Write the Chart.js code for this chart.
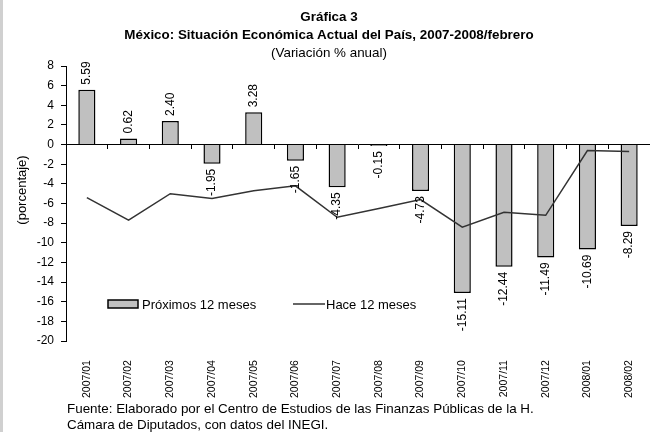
<!DOCTYPE html>
<html>
<head>
<meta charset="utf-8">
<script src="https://cdn.jsdelivr.net/npm/chart.js@4.4.1/dist/chart.umd.min.js"></script>
<style>
  body { margin: 0; background: #fff; }
  #wrap { position: relative; width: 650px; height: 432px; }
  #chart { display: block; }
  #edge { position: absolute; left: 0; top: 0; width: 3px; height: 432px; background: #d0d0d0; }
  #fuente { position: absolute; left: 67px; top: 401px; font: 13.4px "Liberation Sans", Arial, sans-serif; line-height: 16px; color: #000; white-space: nowrap; }
</style>
</head>
<body>
<div id="wrap">
  <canvas id="chart" width="650" height="432"></canvas>
  <div id="edge"></div>
  <div id="fuente">Fuente: Elaborado por el Centro de Estudios de las Finanzas Públicas de la H.<br>Cámara de Diputados, con datos del INEGI.</div>
</div>
<script>
const meses = ["2007/01", "2007/02", "2007/03", "2007/04", "2007/05", "2007/06", "2007/07",
    "2007/08", "2007/09", "2007/10", "2007/11", "2007/12", "2008/01", "2008/02"]
const proximos = [5.59, 0.62, 2.40, -1.95, 3.28, -1.65, -4.35, -0.15, -4.73, -15.11, -12.44, -11.49, -10.69, -8.29]
const hace = [-5.4, -7.7, -5.0, -5.5, -4.7, -4.2, -7.4, -6.5, -5.6, -8.4, -6.9, -7.2, -0.6, -0.7]

Chart.defaults.font.family = '"Liberation Sans", Arial, sans-serif'
Chart.defaults.color = "#000"

// etiquetas de valor giradas sobre/debajo de cada barra
const barLabels = {
    id: "barLabels",
    afterDatasetsDraw(chart) {
        const c = chart.ctx
        const meta = chart.getDatasetMeta(1)
        c.save()
        c.font = '12px "Liberation Sans", Arial, sans-serif'
        c.fillStyle = "#000"
        c.textBaseline = "middle"
        meta.data.forEach((bar, i) => {
            const v = proximos[i]
            c.save()
            c.translate(bar.x, v >= 0 ? bar.y - 5 : bar.y + 5)
            c.rotate(-Math.PI / 2)
            c.textAlign = v >= 0 ? "left" : "right"
            c.fillText(v.toFixed(2), 0, 0)
            c.restore()
        })
        c.restore()
    }
}

// leyenda dentro del área de la gráfica y título del eje y
const legendBox = {
    id: "legendBox",
    afterDraw(chart) {
        const c = chart.ctx
        const a = chart.chartArea
        const bars = chart.data.datasets[1]
        const line = chart.data.datasets[0]
        const y = a.top + 238
        c.save()
        c.font = '13px "Liberation Sans", Arial, sans-serif'
        c.textBaseline = "middle"
        c.fillStyle = bars.backgroundColor
        c.fillRect(a.left + 42, y - 4, 30, 8)
        c.strokeStyle = bars.borderColor
        c.lineWidth = 1.5
        c.strokeRect(a.left + 42, y - 4, 30, 8)
        c.fillStyle = "#000"
        c.fillText(bars.label, a.left + 76, y + 1)
        c.strokeStyle = line.borderColor
        c.lineWidth = line.borderWidth
        c.beginPath()
        c.moveTo(a.left + 227, y)
        c.lineTo(a.left + 259, y)
        c.stroke()
        c.fillText(line.label, a.left + 260, y + 1)

        c.translate(22, a.top + 124)
        c.rotate(-Math.PI / 2)
        c.textAlign = "center"
        c.fillText("(porcentaje)", 0, 0)
        c.restore()
    }
}

const ctx = document.getElementById("chart")
new Chart(ctx, {
    type: "bar",
    data: {
        labels: meses,
        datasets: [{
            type: "line",
            label: "Hace 12 meses",
            data: hace,
            borderColor: "#333333",
            borderWidth: 1.5,
            pointRadius: 0,
            tension: 0,
        }, {
            label: "Próximos 12 meses",
            data: proximos,
            backgroundColor: "#C0C0C0",
            borderColor: "#000000",
            borderWidth: 1.5,
            barPercentage: 0.41,
            categoryPercentage: 1,
        }]
    },
    options: {
        responsive: false,
        animation: false,
        layout: { padding: { left: 8, right: 0, top: 0, bottom: 34 } },
        scales: {
            x: {
                position: "bottom",
                offset: true,
                grid: { display: false, drawTicks: true, tickLength: 19 },
                border: { display: false },
                ticks: { autoSkip: false, minRotation: 90, maxRotation: 90, padding: 0, font: { size: 10.5 } }
            },
            x2: {
                type: "category",
                position: { y: 0 },
                offset: true,
                grid: { offset: true, drawOnChartArea: false, tickLength: 4, color: "#000" },
                border: { color: "#000", width: 1 },
                ticks: { display: false }
            },
            y: {
                min: -20,
                max: 8,
                afterFit: (scale) => { scale.width = 58 },
                ticks: { stepSize: 2, padding: 7, font: { size: 12 } },
                grid: { drawOnChartArea: false, tickLength: 5, color: "#000" },
                border: { color: "#000" }
            }
        },
        plugins: {
            legend: { display: false },
            tooltip: { enabled: false },
            title: {
                display: true,
                text: ["Gráfica 3", "México: Situación Económica Actual del País, 2007-2008/febrero"],
                font: { size: 13.4, weight: "bold", lineHeight: 18 / 13.4 },
                padding: { top: 8, bottom: 0 }
            },
            subtitle: {
                display: true,
                text: "(Variación % anual)",
                font: { size: 13.4, lineHeight: 18 / 13.4 },
                padding: { top: 0, bottom: 4 }
            }
        }
    },
    plugins: [barLabels, legendBox]
})
</script>
</body>
</html>
